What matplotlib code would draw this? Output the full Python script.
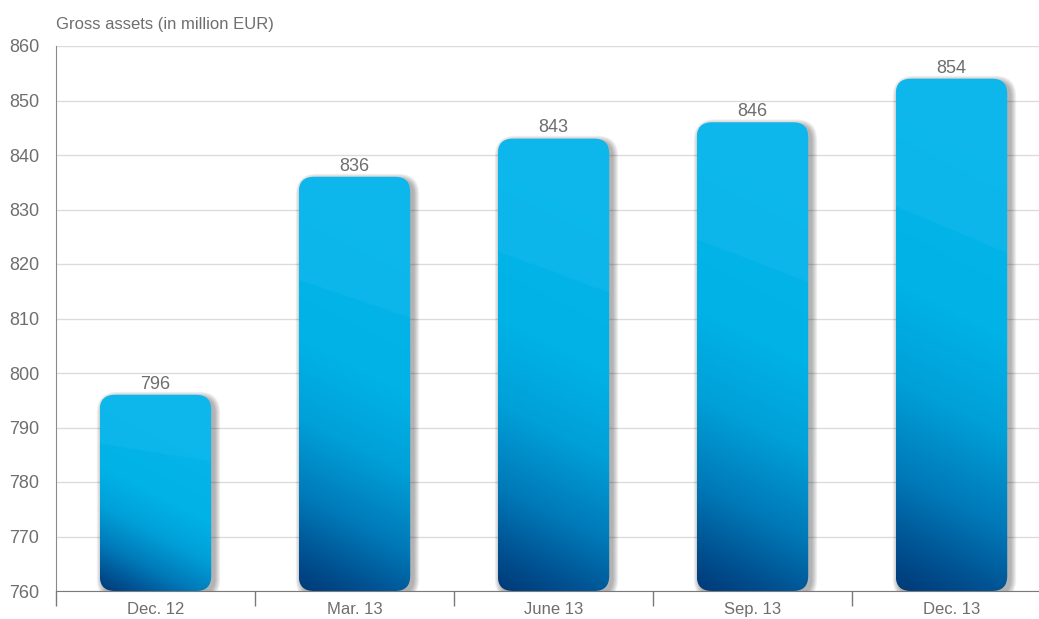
import numpy as np
import matplotlib.pyplot as plt
from matplotlib.patches import FancyBboxPatch
from matplotlib.colors import LinearSegmentedColormap

categories = ['Dec. 12', 'Mar. 13', 'June 13', 'Sep. 13', 'Dec. 13']
values = [796, 836, 843, 846, 854]
y_ticks = list(range(760, 861, 10))
title = 'Gross assets (in million EUR)'

TEXT = '#6e6e6e'
BASE = 760
BAR_W = 0.56
FONT = 'Liberation Sans'

fig = plt.figure(figsize=(10.39, 6.19), dpi=100)
ax = fig.add_axes([56 / 1039, 28 / 619, 995 / 1039, 545 / 619])
ax.set_xlim(-0.5, len(categories) - 0.5)
ax.set_ylim(760, 860)

# grid and axes styling
for y in y_ticks:
    ax.axhline(y, color='#dcdcdc', lw=1.0, zorder=0)
for s in ['top', 'right']:
    ax.spines[s].set_visible(False)
ax.spines['left'].set_color('#8a8a8a')
ax.spines['bottom'].set_color('#7a7a7a')
ax.spines['bottom'].set_zorder(5)
ax.set_yticks(y_ticks)
ax.set_yticklabels([str(v) for v in y_ticks], fontsize=13, color=TEXT, family=FONT)
ax.tick_params(axis='y', length=0, pad=12)
ax.set_xticks(range(len(categories)))
ax.set_xticklabels(categories, fontsize=12, color=TEXT, family=FONT)
ax.tick_params(axis='x', length=0, pad=8)
ax.set_xticks(np.arange(-0.5, len(categories), 1.0), minor=True)
ax.tick_params(axis='x', which='minor', length=11, color='#7a7a7a', width=1)

fig.text(56 / 1039, 1 - 24 / 619, title, fontsize=12, color=TEXT,
         family=FONT, va='center', ha='left')

cmap = LinearSegmentedColormap.from_list('blue', [
    (0.0, '#003a78'), (0.08, '#004f8f'), (0.22, '#0079b8'),
    (0.4, '#00a0d8'), (0.58, '#00b2e6'), (1.0, '#08b6ea')])

# pixel -> data scales for rounded corners
px_x = len(categories) / 995.0
px_y = 100.0 / 545.0
radius = 15 * px_x
aspect = (15 * px_y) / radius
bar_w_px = BAR_W / px_x

for i, v in enumerate(values):
    x0 = i - BAR_W / 2
    h = v - BASE
    h_px = h / px_y
    # soft drop shadow
    for k in range(6):
        grow = (6 - k) * 1.0
        sh = FancyBboxPatch((x0 + 3 * px_x - grow * px_x, BASE - 3 * px_y - grow * px_y),
                            BAR_W + 2 * grow * px_x, h + 2 * grow * px_y,
                            boxstyle=f'round,pad=0,rounding_size={radius + grow * px_x}',
                            mutation_aspect=aspect, fc='black', ec='none',
                            alpha=0.055, zorder=2)
        ax.add_patch(sh)
    patch = FancyBboxPatch((x0, BASE), BAR_W, h,
                           boxstyle=f'round,pad=0,rounding_size={radius}',
                           mutation_aspect=aspect, fc='none', ec='none', zorder=3)
    ax.add_patch(patch)
    # diagonal gradient: dark at bottom-left, light cyan at top
    tilt = 0.5 * bar_w_px / h_px
    uu, vv = np.meshgrid(np.linspace(0, 1, 60), np.linspace(0, 1, 300))
    s = (vv + tilt * uu) / (1 + tilt * 0.3)
    rgb = cmap(np.clip(s, 0, 1))[..., :3]
    edge = 0.75 - 0.09 * uu
    light = vv > edge
    top_col = np.array([0x10, 0xb8, 0xec]) / 255.0
    rgb[light] = rgb[light] * 0.3 + top_col * 0.7
    im = ax.imshow(rgb, origin='lower', extent=(x0, x0 + BAR_W, BASE, v),
                   aspect='auto', zorder=3, interpolation='bilinear')
    im.set_clip_path(patch)
    ax.text(i, v + 0.4, str(v), ha='center', va='bottom', fontsize=13,
            color=TEXT, family=FONT, zorder=4)

ax.set_xlim(-0.5, len(categories) - 0.5)
ax.set_ylim(760, 860)
fig.savefig('out.png', dpi=100)
